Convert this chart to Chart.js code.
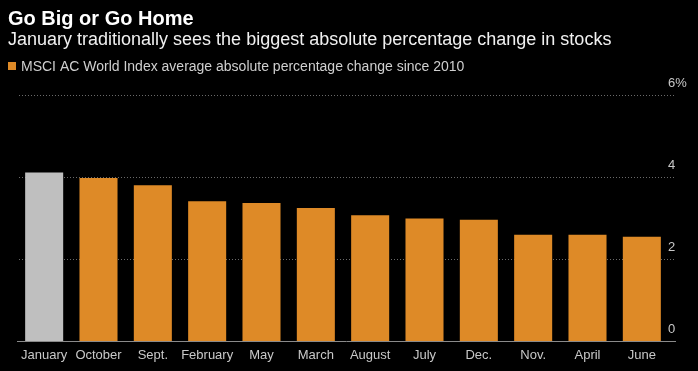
<!DOCTYPE html>
<html><head><meta charset="utf-8">
<style>html,body{margin:0;padding:0;background:#000;}#wrap{width:698px;height:371px;position:relative;}</style>
<script src="https://cdn.jsdelivr.net/npm/chart.js@4/dist/chart.umd.min.js"></script>
</head><body><div id="wrap"><canvas id="c" width="698" height="371"></canvas></div>
<script>
const titleText = "Go Big or Go Home";
const subtitleText = "January traditionally sees the biggest absolute percentage change in stocks";
const legendText = "MSCI AC World Index average absolute percentage change since 2010";
const categories = ["January","October","Sept.","February","May","March","August","July","Dec.","Nov.","April","June"];
const values = [4.11, 3.98, 3.80, 3.41, 3.37, 3.25, 3.07, 2.99, 2.96, 2.60, 2.60, 2.55];
const barColors = ["#bfbfbf","#de8a27","#de8a27","#de8a27","#de8a27","#de8a27","#de8a27","#de8a27","#de8a27","#de8a27","#de8a27","#de8a27"];
const yTicks = [0, 2, 4, 6];
const yTickLabels = ["0", "2", "4", "6%"];

const FONT = "'Liberation Sans', Arial, sans-serif";

const overlay = {
  id: 'overlay',
  beforeDatasetsDraw(chart) {
    const ctx = chart.ctx, y = chart.scales.y, a = chart.chartArea;
    ctx.save();
    ctx.strokeStyle = '#6a6a6a';
    ctx.lineWidth = 1;
    ctx.setLineDash([1, 2]);
    yTicks.forEach(v => {
      if (v === 0) return;
      const py = Math.round(y.getPixelForValue(v)) + 0.5;
      ctx.beginPath(); ctx.moveTo(a.left + 2, py); ctx.lineTo(676, py); ctx.stroke();
    });
    ctx.restore();
  },
  afterDatasetsDraw(chart) {
    const ctx = chart.ctx, y = chart.scales.y, a = chart.chartArea;
    ctx.save();
    const py0 = Math.round(y.getPixelForValue(0)) + 0.5;
    ctx.strokeStyle = '#8a8a8a'; ctx.lineWidth = 1;
    ctx.beginPath(); ctx.moveTo(a.left, py0); ctx.lineTo(676, py0); ctx.stroke();
    ctx.fillStyle = '#c8c8c8';
    ctx.font = "13px " + FONT;
    ctx.textAlign = 'left'; ctx.textBaseline = 'alphabetic';
    yTicks.forEach((v, i) => {
      ctx.fillText(yTickLabels[i], 668, y.getPixelForValue(v) - 8);
    });
    // titles
    ctx.fillStyle = '#ffffff';
    ctx.font = "bold 20px " + FONT;
    ctx.fillText(titleText, 8, 25);
    ctx.fillStyle = '#f0f0f0';
    ctx.font = "18px " + FONT;
    ctx.fillText(subtitleText, 8, 45);
    ctx.fillStyle = '#de8a27';
    ctx.fillRect(8, 62, 8, 8);
    ctx.fillStyle = '#cfcfcf';
    ctx.font = "14px " + FONT;
    ctx.fillText(legendText, 21, 71);
    ctx.restore();
  }
};

new Chart(document.getElementById('c'), {
  type: 'bar',
  data: { labels: categories, datasets: [{ data: values, backgroundColor: barColors, categoryPercentage: 0.7, barPercentage: 1.0 }] },
  options: {
    responsive: false, animation: false, devicePixelRatio: 1,
    layout: { padding: { top: 95, left: 17, right: 29, bottom: 2 } },
    plugins: { legend: { display: false }, title: { display: false }, tooltip: { enabled: false } },
    scales: {
      x: { grid: { display: false, drawTicks: false }, border: { display: false },
           ticks: { color: '#c8c8c8', font: { family: FONT, size: 13 }, padding: 6, maxRotation: 0, autoSkip: false } },
      y: { display: false, min: 0, max: 6 }
    }
  },
  plugins: [overlay]
});
</script></body></html>
